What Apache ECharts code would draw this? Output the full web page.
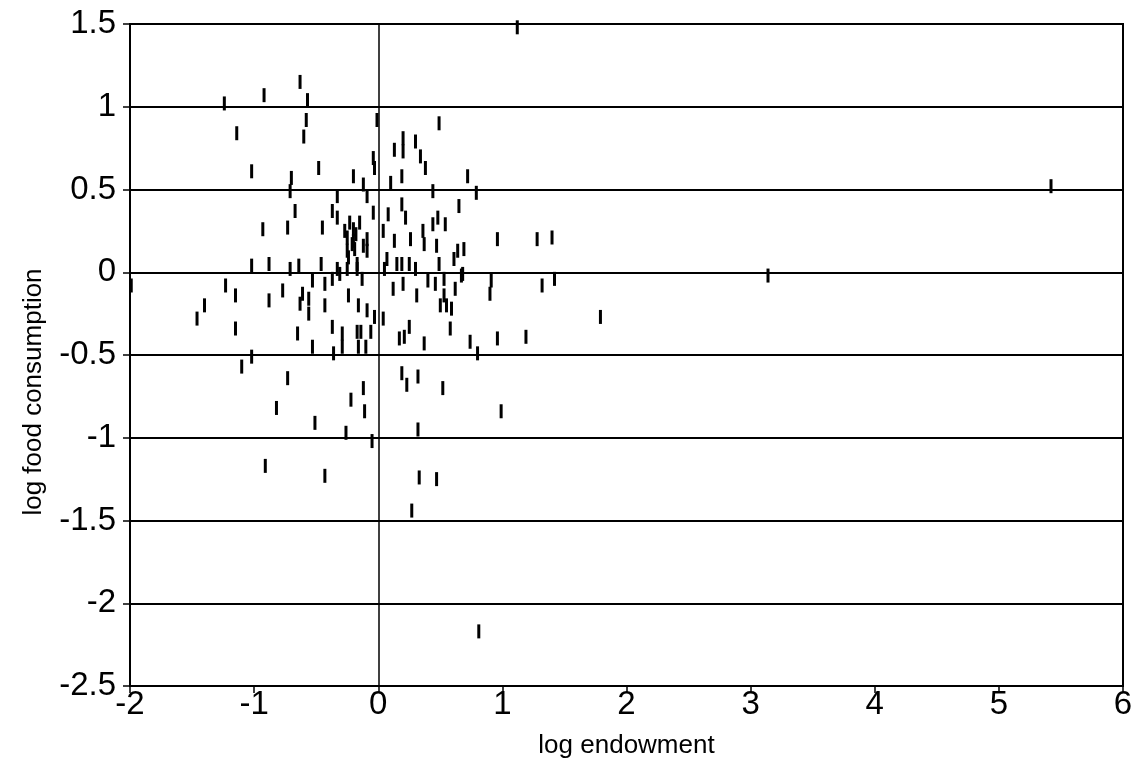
<!DOCTYPE html>
<html>
<head>
<meta charset="utf-8">
<script src="https://cdn.jsdelivr.net/npm/echarts@6/dist/echarts.min.js"></script>
<style>
  html, body { margin: 0; padding: 0; background: #fff; }
  #chart { width: 1136px; height: 765px; }
</style>
</head>
<body>
<div id="chart"></div>
<script>
// Household observations: log endowment (x) against log food consumption (y)
const logEndowment = [
  1.12, -1.24, -0.92, -0.63, -0.57, -0.58, -0.60, -1.14, -1.02, -0.48,
  -0.20, -0.70, -0.71, -0.12, -0.09, -0.33, -0.04, -0.67, -0.37, -0.33,
  -0.93, -0.73, -0.45, -0.15, -0.04, -0.03, -0.01, -0.12, -0.09, -0.17,
  -0.20, -0.25, -0.23, -0.20, -0.18, -0.25, -0.21, -0.19, -0.24, -0.27,
  -0.25, -0.33, -0.46, -1.02, -0.88, -0.71, -0.64, -0.31, -0.17, -0.13,
  -0.53, -0.43, -0.37, -1.99, -1.23, -1.15, -0.77, -0.61, -0.63, -0.88,
  -0.56, -0.56, -0.43, -0.24, -0.16, -0.09, -1.40, -1.46, -1.15, -0.65,
  -0.37, -0.29, -0.29, -0.17, -0.06, -0.53, -0.36, -0.16, -0.10, -1.02,
  -1.10, -0.73, -0.12, -0.22, -0.82, -0.11, -0.51, -0.26, -0.05, -0.91,
  -0.43, -0.03, 0.04, 0.04, 0.08, 0.10, 0.13, 0.20, 0.20, 0.30,
  0.34, 0.38, 0.19, 0.19, 0.22, 0.44, 0.49, 0.72, 0.79, 0.65,
  0.48, 0.54, 0.44, 0.13, 0.26, 0.36, 0.37, 0.47, 0.64, 0.69,
  0.61, 0.49, 0.07, 0.05, 0.15, 0.19, 0.25, 0.30, 0.68, 0.96,
  1.28, 1.40, 1.42, 1.32, 0.91, 0.90, 0.62, 0.53, 0.12, 0.20,
  0.31, 0.40, 0.46, 0.53, 0.55, 0.50, 0.59, 0.58, 0.67, 1.79,
  0.25, 0.21, 0.17, 0.74, 0.96, 1.19, 0.37, 0.80, 0.19, 0.23,
  0.32, 0.52, 0.99, 0.32, 0.33, 0.47, 0.27, 0.81, 5.42, 3.14,
  -0.09, -0.14
];
const logFood = [
  1.48, 1.02, 1.07, 1.15, 1.04, 0.92, 0.82, 0.84, 0.61, 0.63,
  0.58, 0.57, 0.49, 0.53, 0.46, 0.46, 0.36, 0.37, 0.37, 0.33,
  0.26, 0.27, 0.27, 0.30, 0.69, 0.63, 0.92, 0.16, 0.20, 0.05,
  0.19, 0.13, 0.30, 0.26, 0.23, 0.21, 0.17, 0.14, 0.09, 0.25,
  0.02, 0.02, 0.05, 0.04, 0.05, 0.02, 0.04, -0.01, 0.02, -0.04,
  -0.05, -0.07, -0.04, -0.08, -0.08, -0.14, -0.11, -0.13, -0.19, -0.17,
  -0.16, -0.25, -0.20, -0.14, -0.20, -0.23, -0.20, -0.28, -0.34, -0.37,
  -0.33, -0.37, -0.45, -0.36, -0.36, -0.45, -0.49, -0.45, -0.45, -0.51,
  -0.57, -0.64, -0.70, -0.77, -0.82, -0.84, -0.91, -0.97, -1.02, -1.17,
  -1.23, -0.27, -0.28, 0.25, 0.35, 0.54, 0.74, 0.81, 0.73, 0.79,
  0.70, 0.63, 0.58, 0.41, 0.33, 0.49, 0.90, 0.58, 0.48, 0.40,
  0.33, 0.29, 0.29, 0.19, 0.20, 0.25, 0.17, 0.16, 0.13, 0.14,
  0.08, 0.05, 0.08, 0.02, 0.05, 0.05, 0.05, 0.02, -0.01, 0.20,
  0.20, 0.21, -0.04, -0.08, -0.05, -0.13, -0.10, -0.04, -0.10, -0.07,
  -0.14, -0.05, -0.07, -0.14, -0.20, -0.20, -0.22, -0.34, -0.02, -0.27,
  -0.33, -0.39, -0.40, -0.42, -0.40, -0.39, -0.43, -0.49, -0.61, -0.68,
  -0.63, -0.70, -0.84, -0.95, -1.24, -1.25, -1.44, -2.17, 0.52, -0.02,
  0.13, -0.36
];
const xTicks = { min: -2, max: 6, step: 1 };
const yTicks = { min: -2.5, max: 1.5, step: 0.5 };

const points = logEndowment.map((x, i) => [x, logFood[i]]);

const font = 'Liberation Sans, Arial, Helvetica, sans-serif';
const chart = echarts.init(document.getElementById('chart'), null, { renderer: 'canvas' });
chart.setOption({
  animation: false,
  backgroundColor: '#ffffff',
  grid: {
    left: 130, right: 13, top: 24, bottom: 79,
    show: true, borderColor: '#000', borderWidth: 2, backgroundColor: 'transparent'
  },
  // vertical axis title, set a little below the plot's mid-height
  graphic: [{
    type: 'text',
    x: 34,
    y: 392,
    rotation: Math.PI / 2,
    style: {
      text: 'log food consumption',
      font: '26px ' + font,
      fill: '#000',
      align: 'center',
      verticalAlign: 'middle'
    }
  }],
  xAxis: {
    type: 'value',
    min: xTicks.min, max: xTicks.max, interval: xTicks.step,
    name: 'log endowment',
    nameLocation: 'middle',
    nameGap: 47,
    nameTextStyle: { fontFamily: font, fontSize: 26, color: '#000' },
    axisLine: { show: true, onZero: false, lineStyle: { color: '#000', width: 2 } },
    axisTick: { show: true, length: 7, lineStyle: { color: '#000', width: 1.5 } },
    axisLabel: { fontFamily: font, fontSize: 33, color: '#000', margin: 2 },
    splitLine: { show: false }
  },
  yAxis: {
    type: 'value',
    min: yTicks.min, max: yTicks.max, interval: yTicks.step,
    axisLine: { show: true, onZero: false, lineStyle: { color: '#000', width: 2 } },
    axisTick: { show: true, length: 7, lineStyle: { color: '#000', width: 1.5 } },
    axisLabel: { fontFamily: font, fontSize: 33, color: '#000', margin: 14 },
    splitLine: { show: true, lineStyle: { color: '#000', width: 2 } }
  },
  series: [{
    type: 'scatter',
    data: points,
    symbol: 'rect',
    symbolSize: [3, 14],
    itemStyle: { color: '#000', opacity: 1 },
    markLine: {
      silent: true,
      symbol: 'none',
      label: { show: false },
      lineStyle: { color: '#000', width: 1.5, type: 'solid' },
      data: [{ xAxis: 0 }]
    }
  }]
});
</script>
</body>
</html>
